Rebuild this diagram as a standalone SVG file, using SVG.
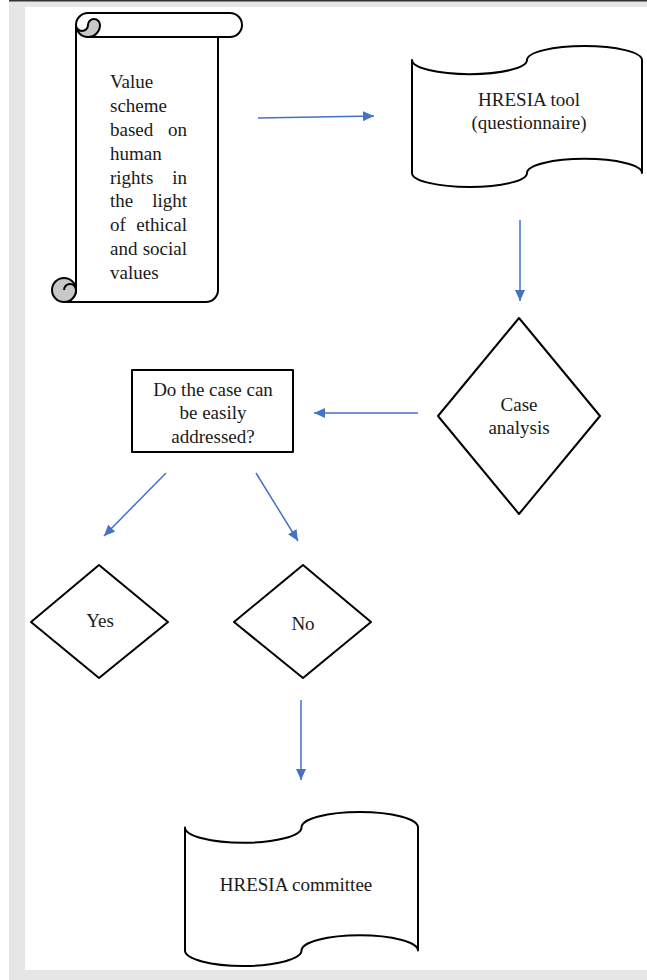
<svg xmlns="http://www.w3.org/2000/svg" width="647" height="980" viewBox="0 0 647 980">
<defs>
<style>
.shape{fill:#fff;stroke:#000;stroke-width:2;stroke-linejoin:round}
.curl{fill:#c8c8c8;stroke:#000;stroke-width:2}
.t{font-family:"Liberation Serif","Times New Roman",serif;font-size:19px;fill:#1a1a1a}
.c{text-anchor:middle}
.e{text-anchor:end}
.conn{stroke:#4472C4;stroke-width:1.5;fill:none;marker-end:url(#ah)}
</style>
<marker id="ah" markerWidth="11" markerHeight="10" refX="11" refY="5" orient="auto" markerUnits="userSpaceOnUse">
<path d="M0,0 L11,5 L0,10 Z" fill="#4472C4"/>
</marker>
</defs>
<rect width="647" height="980" fill="#fff"/>
<rect x="9" y="0" width="638" height="980" fill="#e6e6e6"/>
<rect x="25" y="7" width="622" height="963" fill="#fff"/>
<rect x="9" y="0" width="638" height="1.5" fill="#333"/>

<g id="value-scheme">
<path class="shape" d="M64,302 L206,302 A12,12 0 0 0 218,290 L218,37 L230,37 A12,12 0 0 0 230,13 L88,13 A12,12 0 0 0 76,25 L76,290 A12,12 0 0 1 64,302 Z"/>
<path fill="none" stroke="#000" stroke-width="2" d="M88,37 L218,37"/>
<path class="curl" d="M76,25 A12,12 0 0 0 88,37 A12,12 0 0 0 100,25 A6,6 0 0 0 88,25 A6,6 0 0 1 76,25 Z"/>
<circle class="curl" cx="64" cy="290" r="12"/>
<path fill="none" stroke="#000" stroke-width="2" d="M64,290 A6,6 0 0 1 76,290"/>
<text class="t" x="110" y="88">Value</text>
<text class="t" x="110" y="112">scheme</text>
<text class="t" x="110" y="136">based</text><text class="t e" x="187" y="136">on</text>
<text class="t" x="110" y="160">human</text>
<text class="t" x="110" y="184">rights</text><text class="t e" x="187" y="184">in</text>
<text class="t" x="110" y="207">the</text><text class="t e" x="187" y="207">light</text>
<text class="t" x="110" y="231">of</text><text class="t e" x="187" y="231">ethical</text>
<text class="t" x="110" y="255">and</text><text class="t e" x="187" y="255">social</text>
<text class="t" x="110" y="279">values</text>
</g>

<g id="hresia-tool">
<path class="shape" d="M412,60.1 A57.5,14.1 0 0 0 527,60.1 A57.5,14.1 0 0 1 642,60.1 L642,172.9 A57.5,14.1 0 0 0 527,172.9 A57.5,14.1 0 0 1 412,172.9 Z"/>
<text class="t c" x="529" y="106">HRESIA tool</text>
<text class="t c" x="529" y="129">(questionnaire)</text>
</g>

<g id="case-analysis">
<polygon class="shape" points="519,318 600,416 519,514 438,416"/>
<text class="t c" x="519" y="411">Case</text>
<text class="t c" x="519" y="434">analysis</text>
</g>

<g id="question">
<rect class="shape" x="132" y="370" width="161" height="82" stroke-width="2.5"/>
<text class="t c" x="213" y="396">Do the case can</text>
<text class="t c" x="213" y="419">be easily</text>
<text class="t c" x="213" y="443">addressed?</text>
</g>

<g id="yes">
<polygon class="shape" points="99,565 168,622 99,678 31,622"/>
<text class="t c" x="100" y="627">Yes</text>
</g>

<g id="no">
<polygon class="shape" points="303,565 371,622 303,678 234,622"/>
<text class="t c" x="303" y="630">No</text>
</g>

<g id="hresia-committee">
<path class="shape" d="M185,827.4 A58.25,15.4 0 0 0 301.5,827.4 A58.25,15.4 0 0 1 418,827.4 L418,950.6 A58.25,15.4 0 0 0 301.5,950.6 A58.25,15.4 0 0 1 185,950.6 Z"/>
<text class="t c" x="296" y="891">HRESIA committee</text>
</g>

<g id="connectors">
<line class="conn" x1="258" y1="118" x2="374" y2="116"/>
<line class="conn" x1="520" y1="220" x2="520" y2="301"/>
<line class="conn" x1="418" y1="413" x2="314" y2="413"/>
<line class="conn" x1="166" y1="473" x2="104" y2="536"/>
<line class="conn" x1="256" y1="473" x2="298" y2="541"/>
<line class="conn" x1="301" y1="700" x2="301" y2="780"/>
</g>
</svg>
